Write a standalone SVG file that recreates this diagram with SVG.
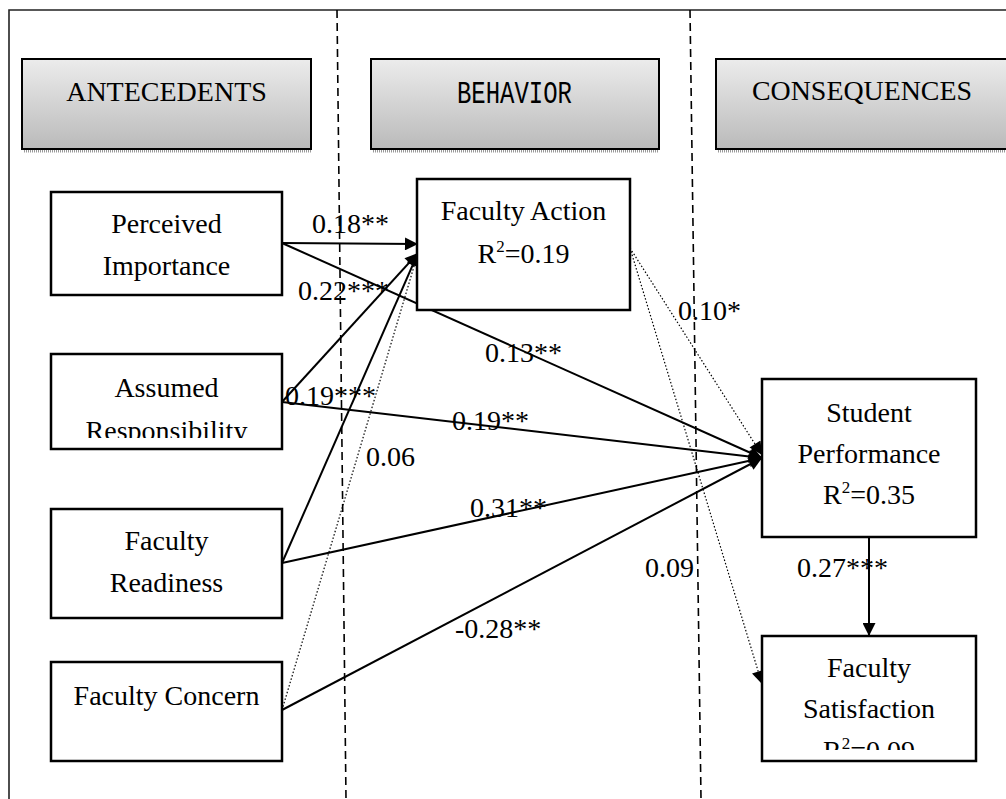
<svg xmlns="http://www.w3.org/2000/svg" width="1006" height="799" viewBox="0 0 1006 799">
<style>
text{font-family:"Liberation Serif","Times New Roman",serif;font-size:28px;fill:#000}
.box{fill:#fff;stroke:#000;stroke-width:2.5}
.hdr{fill:url(#g);stroke:#000;stroke-width:2}
.shadow{stroke:#999;stroke-width:3;stroke-dasharray:1 1}
.sep{stroke:#000;stroke-width:1.6;stroke-dasharray:8 5;fill:none}
.solid{stroke:#000;stroke-width:2;fill:none;marker-end:url(#ah)}
.dot{stroke:#000;stroke-width:1.2;stroke-dasharray:1.5 2;fill:none;marker-end:url(#ah)}
.m{text-anchor:middle}
</style>
<defs>
<linearGradient id="g" x1="0" y1="0" x2="0" y2="1">
<stop offset="0" stop-color="#ececec"/>
<stop offset="1" stop-color="#bababa"/>
</linearGradient>
<marker id="ah" viewBox="0 0 10 10" refX="10" refY="5" markerWidth="17" markerHeight="13" markerUnits="userSpaceOnUse" orient="auto">
<path d="M0,0 L10,5 L0,10 Z" fill="#000"/>
</marker>
<clipPath id="c1"><rect x="51" y="354" width="231" height="84"/></clipPath>
<clipPath id="c2"><rect x="762" y="636" width="214" height="114"/></clipPath>
</defs>
<g id="frame">
<path d="M9,799 L9,10 L1006,10" fill="none" stroke="#222" stroke-width="1.6"/>
<line class="sep" x1="337" y1="10" x2="346" y2="799"/>
<line class="sep" x1="690" y1="10" x2="701" y2="799"/>
</g>
<g id="hdr-antecedents">
<line class="shadow" x1="24" y1="151" x2="311" y2="151"/>
<rect class="hdr" x="22" y="59" width="289" height="90"/>
<text class="m" x="166.5" y="101">ANTECEDENTS</text>
</g>
<g id="hdr-behavior">
<line class="shadow" x1="373" y1="151" x2="659" y2="151"/>
<rect class="hdr" x="371" y="59" width="288" height="90"/>
<text x="457" y="103" style="font-family:'Liberation Mono',monospace;font-size:31px" textLength="115" lengthAdjust="spacingAndGlyphs">BEHAVIOR</text>
</g>
<g id="hdr-consequences">
<line class="shadow" x1="718" y1="151" x2="1006" y2="151"/>
<rect class="hdr" x="716" y="59" width="300" height="90"/>
<text x="752" y="100" textLength="220" lengthAdjust="spacingAndGlyphs">CONSEQUENCES</text>
</g>
<g id="connectors">
<line class="solid" x1="282" y1="243" x2="418" y2="244"/>
<line class="solid" x1="282" y1="243" x2="762" y2="458"/>
<line class="solid" x1="282" y1="402" x2="418" y2="253"/>
<line class="solid" x1="282" y1="402" x2="762" y2="458"/>
<line class="solid" x1="282" y1="563" x2="418" y2="253"/>
<line class="solid" x1="282" y1="563" x2="762" y2="458"/>
<line class="dot" x1="282" y1="710" x2="418" y2="253"/>
<line class="solid" x1="282" y1="710" x2="762" y2="458"/>
<line class="dot" x1="630" y1="248" x2="762" y2="455"/>
<line class="dot" x1="630" y1="248" x2="762" y2="684"/>
<line class="solid" x1="869" y1="537" x2="869" y2="636"/>
</g>
<g id="labels">
<text x="312" y="233">0.18**</text>
<text x="298" y="300">0.22***</text>
<text x="285" y="405">0.19***</text>
<text x="366" y="466">0.06</text>
<text x="485" y="362">0.13**</text>
<text x="678" y="320">0.10*</text>
<text x="452" y="430">0.19**</text>
<text x="470" y="517">0.31**</text>
<text x="455" y="638">-0.28**</text>
<text x="645" y="577">0.09</text>
<text x="797" y="577">0.27***</text>
</g>
<g id="node-perceived">
<rect class="box" x="51" y="192" width="231" height="103"/>
<text class="m" x="166.5" y="233">Perceived</text>
<text class="m" x="166.5" y="275">Importance</text>
</g>
<g id="node-assumed">
<rect class="box" x="51" y="354" width="231" height="95"/>
<text class="m" x="166.5" y="397">Assumed</text>
<text class="m" x="166.5" y="440" clip-path="url(#c1)">Responsibility</text>
</g>
<g id="node-readiness">
<rect class="box" x="51" y="509" width="231" height="109"/>
<text class="m" x="166.5" y="550">Faculty</text>
<text class="m" x="166.5" y="592">Readiness</text>
</g>
<g id="node-concern">
<rect class="box" x="51" y="662" width="231" height="99"/>
<text class="m" x="166.5" y="705">Faculty Concern</text>
</g>
<g id="node-action">
<rect class="box" x="417" y="179" width="213" height="131"/>
<text class="m" x="523.5" y="220">Faculty Action</text>
<text class="m" x="523.5" y="263">R<tspan font-size="17" dy="-11">2</tspan><tspan dy="11">=0.19</tspan></text>
</g>
<g id="node-performance">
<rect class="box" x="762" y="379" width="214" height="158"/>
<text class="m" x="869" y="422">Student</text>
<text class="m" x="869" y="463">Performance</text>
<text class="m" x="869" y="504">R<tspan font-size="17" dy="-11">2</tspan><tspan dy="11">=0.35</tspan></text>
</g>
<g id="node-satisfaction">
<rect class="box" x="762" y="636" width="214" height="125"/>
<text class="m" x="869" y="677">Faculty</text>
<text class="m" x="869" y="718">Satisfaction</text>
<text class="m" x="869" y="760" clip-path="url(#c2)">R<tspan font-size="17" dy="-11">2</tspan><tspan dy="11">=0.09</tspan></text>
</g>
</svg>
